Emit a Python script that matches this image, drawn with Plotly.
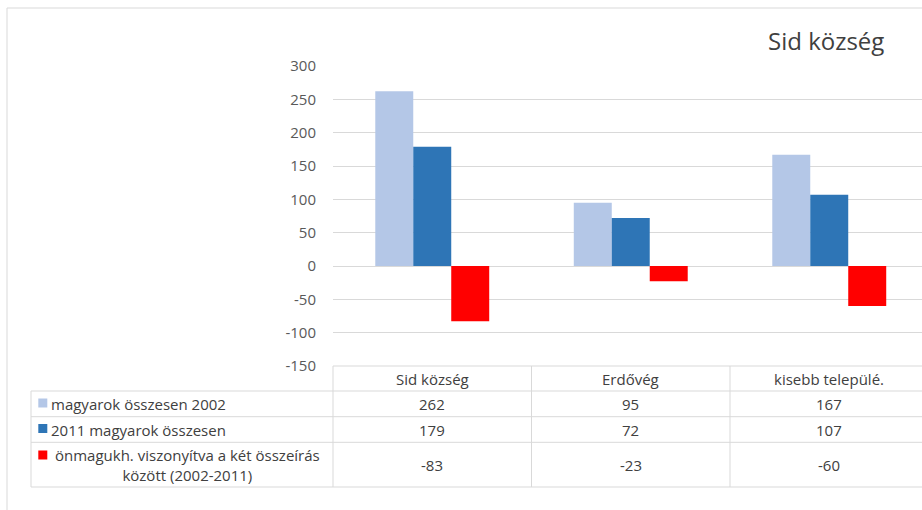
import plotly.graph_objects as go

# data
categories = ["Sid község", "Erdővég", "kisebb települé."]
series_names = [
    "magyarok összesen 2002",
    "2011 magyarok összesen",
    "önmagukh. viszonyítva a két összeírás<br>között (2002-2011)",
]
magyarok_2002 = [262, 95, 167]
magyarok_2011 = [179, 72, 107]
valtozas = [-83, -23, -60]
colors = ["#B4C7E7", "#2E75B6", "#FF0000"]
y_ticks = [-150, -100, -50, 0, 50, 100, 150, 200, 250, 300]

series_values = [magyarok_2002, magyarok_2011, valtozas]

W, H = 922, 510
PLOT_L, PLOT_R, PLOT_T, PLOT_B = 333, 922, 66, 366
CAT_W = 198.5
GRID = "#D9D9D9"
TXT = "#404040"
FONT = "Open Sans"


def px(x):
    # pixel x -> paper x
    return (x - PLOT_L) / (PLOT_R - PLOT_L)


def py(y):
    # pixel y -> paper y
    return (PLOT_B - y) / (PLOT_B - PLOT_T)


fig = go.Figure()
for name, vals, col in zip(series_names, series_values, colors):
    fig.add_trace(go.Bar(x=categories, y=vals, name=name, marker_color=col,
                         marker_line_width=0))

# table rows (pixel y of borders)
row_lines = [PLOT_B, 391, 416.7, 442.3, 487]
shapes = []
line = dict(color=GRID, width=1)
shapes.append(dict(type="line", xref="paper", yref="paper", x0=px(PLOT_L), x1=px(940),
                   y0=py(row_lines[0]), y1=py(row_lines[0]), line=line))
for yy in row_lines[1:]:
    shapes.append(dict(type="line", xref="paper", yref="paper", x0=px(31), x1=px(940),
                       y0=py(yy), y1=py(yy), line=line))
shapes.append(dict(type="line", xref="paper", yref="paper", x0=px(31), x1=px(31),
                   y0=py(row_lines[1]), y1=py(row_lines[-1]), line=line))
shapes.append(dict(type="line", xref="paper", yref="paper", x0=px(PLOT_L), x1=px(PLOT_L),
                   y0=py(row_lines[0]), y1=py(row_lines[-1]), line=line))
for i in range(len(categories) - 1):
    shapes.append(dict(type="line", xref="x", yref="paper", x0=i + 0.5, x1=i + 0.5,
                       y0=py(row_lines[0]), y1=py(row_lines[-1]), line=line))
# outer chart frame
shapes.append(dict(type="rect", xref="paper", yref="paper", x0=px(7), x1=px(960),
                   y0=py(8), y1=py(540), line=dict(color=GRID, width=1),
                   fillcolor="rgba(0,0,0,0)"))

annotations = []
tfont = dict(family=FONT, size=15, color=TXT)
# header row
for c in categories:
    annotations.append(dict(x=c, xref="x", y=py(378.5), yref="paper", text=c,
                            showarrow=False, font=tfont, xanchor="center", yanchor="middle"))
row_centers = [404, 429.5, 464.5]
for r, (name, vals, col) in enumerate(zip(series_names, series_values, colors)):
    yc = row_centers[r]
    for c, v in zip(categories, vals):
        annotations.append(dict(x=c, xref="x", y=py(yc), yref="paper", text=str(v),
                                showarrow=False, font=tfont, xanchor="center",
                                yanchor="middle"))
    if "<br>" in name:
        annotations.append(dict(x=px(187), xref="paper", y=py(yc), yref="paper", text=name,
                                showarrow=False, font=tfont, xanchor="center",
                                yanchor="middle", align="center"))
        ky = yc - 9.5
    else:
        annotations.append(dict(x=px(51), xref="paper", y=py(yc), yref="paper", text=name,
                                showarrow=False, font=tfont, xanchor="left",
                                yanchor="middle", xshift=-2))
        ky = yc - 1
    shapes.append(dict(type="rect", xref="paper", yref="paper", x0=px(38.3), x1=px(47.3),
                       y0=py(ky - 4.5), y1=py(ky + 4.5), fillcolor=col, line_width=0))

annotations.append(dict(x=px(826), xref="paper", y=py(40), yref="paper", text="Sid község",
                        showarrow=False, font=dict(family=FONT, size=24, color=TXT),
                        xanchor="center", yanchor="middle"))

fig.update_layout(
    width=W, height=H,
    margin=dict(l=PLOT_L, r=W - PLOT_R, t=PLOT_T, b=H - PLOT_B, pad=0),
    paper_bgcolor="white", plot_bgcolor="white",
    barmode="group", bargap=0.426, bargroupgap=0,
    showlegend=False,
    font=dict(family=FONT, color=TXT),
    shapes=shapes, annotations=annotations,
)
fig.update_xaxes(range=[-0.5, -0.5 + (PLOT_R - PLOT_L) / CAT_W], showticklabels=False,
                 showgrid=False, zeroline=False, showline=False)
fig.update_yaxes(range=[-150, 300], tickvals=y_ticks, ticktext=[str(v) for v in y_ticks],
                 showgrid=True, gridcolor=GRID,
                 gridwidth=1, zeroline=True, zerolinecolor=GRID, zerolinewidth=1,
                 showline=False, ticklabelstandoff=16,
                 tickfont=dict(family=FONT, size=15, color="#595959"))

# drop the default page margin so the chart sits at the window's corner
fig.write_html("out.html", config={"displayModeBar": False},
               post_script="document.body.style.margin='0';")
